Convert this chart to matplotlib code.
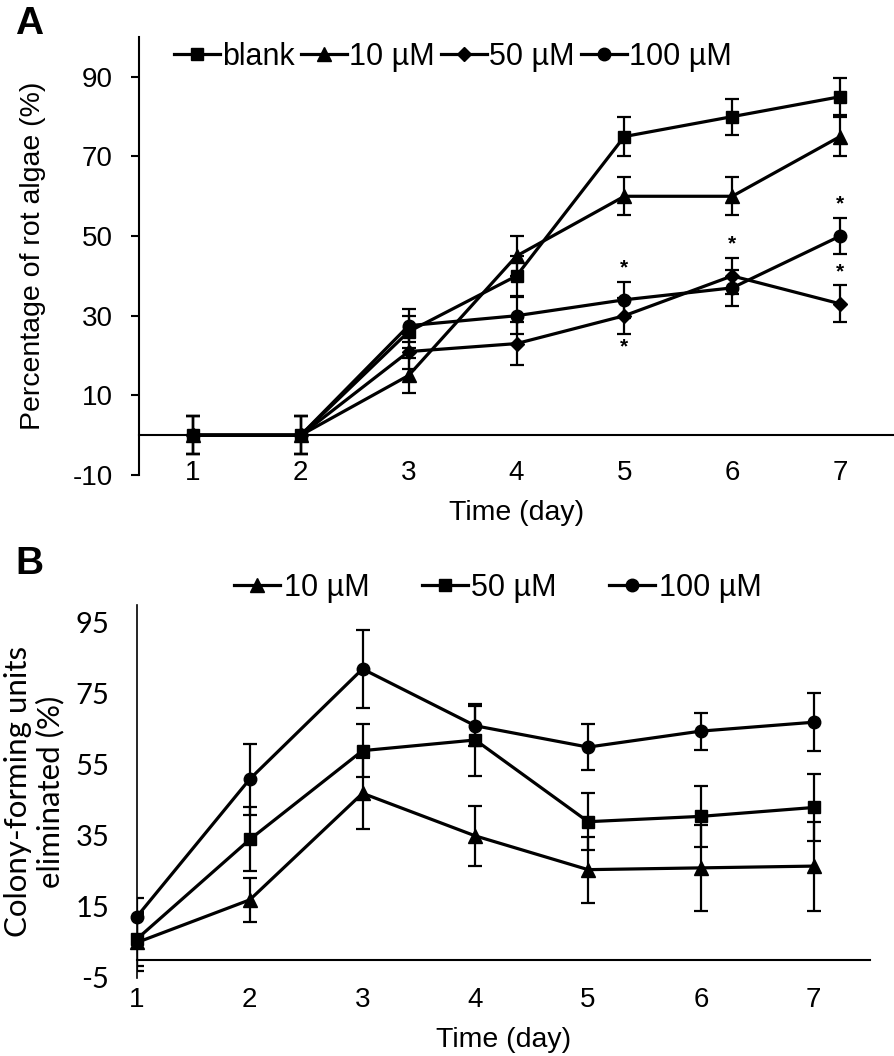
import numpy as np
import matplotlib
matplotlib.use('Agg')
from matplotlib import pyplot as plt

plt.rcParams['font.family'] = ['Liberation Sans', 'DejaVu Sans']
plt.rcParams['axes.unicode_minus'] = False

days = [1, 2, 3, 4, 5, 6, 7]

# panel A - percentage of rot algae
a_labels = ['blank', '10 µM', '50 µM', '100 µM']
a_markers = ['s', '^', 'D', 'o']
a_blank = [0, 0, 26, 40, 75, 80, 85]
a_10 = [0, 0, 15, 45, 60, 60, 75]
a_50 = [0, 0, 21, 23, 30, 40, 33]
a_100 = [0, 0, 27.5, 30, 34, 37, 50]
a_blank_err = [4.7, 4.7, 4, 5, 5, 4.5, 4.7]
a_10_err = [4.7, 4.7, 4.5, 5, 4.8, 4.8, 5]
a_50_err = [4.7, 4.7, 4.5, 5.5, 4.5, 4.5, 4.6]
a_100_err = [4.7, 4.7, 4.2, 4.6, 4.5, 4.5, 4.6]
a_yticks = [-10, 10, 30, 50, 70, 90]
# significance marks: (day, series index, above/below)
a_stars = [(5, 3, 1), (5, 2, -1), (6, 2, 1), (7, 3, 1), (7, 2, 1)]

# panel B - colony-forming units eliminated
b_labels = ['10 µM', '50 µM', '100 µM']
b_markers = ['^', 's', 'o']
b_10 = [5, 17, 47, 35, 25.5, 26, 26.5]
b_50 = [6, 34, 59, 62, 39, 40.5, 43]
b_100 = [12.3, 51, 82, 66, 60, 64.5, 67]
b_10_err = [8, 6.2, 10, 8.5, 9.3, 12, 12.5]
b_50_err = [7.5, 9, 7.5, 10, 8, 8.5, 9.4]
b_100_err = [5.2, 10, 11, 5.6, 6.5, 5.2, 8.2]
b_yticks = [-5, 15, 35, 55, 75, 95]

fig = plt.figure(figsize=(8.94, 10.56), dpi=100)

msize = {'s': 8.5, '^': 9.5, 'D': 7.5, 'o': 9}
calibri_like = ['Lato', 'DejaVu Sans']

# ---------------- panel A ----------------
axA = fig.add_axes([139 / 894, 1 - 475 / 1056, 755 / 894, 438 / 1056])
a_vals = [a_blank, a_10, a_50, a_100]
a_errs = [a_blank_err, a_10_err, a_50_err, a_100_err]
for vals, errs, m, lab in zip(a_vals, a_errs, a_markers, a_labels):
    axA.errorbar(days, vals, yerr=errs, fmt='none', ecolor='black',
                 elinewidth=1.6, capsize=5, capthick=1.6, zorder=2)
    axA.plot(days, vals, color='black', lw=2.3, marker=m, ms=msize[m],
             label=lab, clip_on=False, zorder=3)

for day, si, side in a_stars:
    i = days.index(day)
    y = a_vals[si][i] + side * a_errs[si][i]
    axA.annotate('*', (day, y), xytext=(0, 3 * side), textcoords='offset points',
                 ha='center', va='bottom' if side > 0 else 'top',
                 fontsize=15, fontweight='bold')

axA.set_xlim(0.5, 7.5)
axA.set_ylim(-10, 100)
axA.set_xticks(days)
axA.set_yticks(a_yticks)
axA.spines['top'].set_visible(False)
axA.spines['right'].set_visible(False)
axA.spines['bottom'].set_position(('data', 0))
axA.spines['bottom'].set_linewidth(1.5)
axA.spines['left'].set_linewidth(1.5)
axA.tick_params(axis='y', length=6, width=1.5, pad=13, labelsize=20)
axA.tick_params(axis='x', length=0, pad=18, labelsize=20)
axA.set_xlabel('Time (day)', fontsize=20.5, labelpad=10)
axA.set_ylabel('Percentage of rot algae (%)', fontsize=20.5, labelpad=19)
axA.legend(loc='center left', bbox_to_anchor=(174 / 894, 1 - 57 / 1056),
           bbox_transform=fig.transFigure, ncol=4, frameon=False,
           fontsize=22, handlelength=1.5, handletextpad=0.08,
           columnspacing=0.2, borderpad=0, borderaxespad=0)

# ---------------- panel B ----------------
axB = fig.add_axes([137 / 894, 1 - 978 / 1056, 733 / 894, 373 / 1056])
b_vals = [b_10, b_50, b_100]
b_errs = [b_10_err, b_50_err, b_100_err]
for vals, errs, m, lab in zip(b_vals, b_errs, b_markers, b_labels):
    axB.errorbar(days, vals, yerr=errs, fmt='none', ecolor='black',
                 elinewidth=1.6, capsize=5, capthick=1.6, zorder=2)
    axB.plot(days, vals, color='black', lw=2.3, marker=m, ms=msize[m],
             label=lab, clip_on=False, zorder=3)

axB.set_xlim(1, 7.5)
axB.set_ylim(-5, 100)
axB.set_xticks(days)
axB.set_yticks(b_yticks)
axB.spines['top'].set_visible(False)
axB.spines['right'].set_visible(False)
axB.spines['bottom'].set_position(('data', 0))
axB.spines['bottom'].set_linewidth(1.5)
axB.spines['left'].set_linewidth(1.2)
axB.tick_params(axis='y', length=0, pad=20, labelsize=21,
                labelfontfamily=calibri_like)
axB.tick_params(axis='x', length=0, pad=19, labelsize=20)
axB.set_xlabel('Time (day)', fontsize=20.5, labelpad=10)
axB.set_ylabel('Colony-forming units\neliminated (%)', fontsize=22.5,
               family=calibri_like, labelpad=8, linespacing=1.15)
axB.legend(loc='center left', bbox_to_anchor=(234 / 894, 1 - 588 / 1056),
           bbox_transform=fig.transFigure, ncol=3, frameon=False,
           fontsize=22, handlelength=1.5, handletextpad=0.12,
           columnspacing=1.72, borderpad=0, borderaxespad=0)

fig.text(15 / 894, 1 - 6 / 1056, 'A', fontsize=28, fontweight='bold', va='top')
fig.text(15 / 894, 1 - 546 / 1056, 'B', fontsize=28, fontweight='bold', va='top')

fig.savefig('out.png', dpi=100)
